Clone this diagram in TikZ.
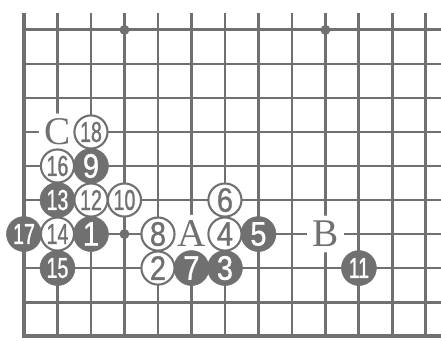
\documentclass[tikz,border=0pt]{standalone}
\usepackage{fontspec}
\newfontfamily\onedigit[FakeStretch=0.85, FakeBold=1]{Liberation Sans}
\newfontfamily\twodigit[FakeStretch=0.68, FakeBold=1]{Liberation Sans}
\newfontfamily\boardserif{Liberation Serif}
\usepackage{xcolor}
\definecolor{gogray}{RGB}{112,112,112}
\usetikzlibrary{positioning}

\tikzset{
  blackstone/.style={circle, fill=gogray, draw=gogray, minimum size=0.94cm, inner sep=0pt,
    text=white, font=\onedigit\fontsize{26}{26}\selectfont},
  whitestone/.style={circle, fill=white, draw=gogray, line width=1.6pt, minimum size=0.89cm,
    inner sep=0pt, text=gogray, font=\onedigit\fontsize{26}{26}\selectfont},
  twonum/.style={font=\twodigit\fontsize{22}{22}\selectfont},
  boardletter/.style={circle, fill=white, minimum size=0.95cm, inner sep=0pt, text=gogray,
    font=\boardserif\fontsize{30}{30}\selectfont},
  gridline/.style={gogray, line width=2.2pt},
}

\begin{document}
\begin{tikzpicture}[x=0.9cm, y=0.914cm]
  \useasboundingbox (-0.716,-0.118) rectangle (12.45,9.88);

  % --- Board lines ---
  \foreach \c in {1,...,12} \draw[gridline] (\c,0) -- (\c,9.5);
  \foreach \r in {1,...,9}  \draw[gridline] (0,\r) -- (12.45,\r);
  % edges of the board
  \draw[gogray, line width=3.2pt] (0,9.5) -- (0,0) -- (12.45,0);
  % star points
  \foreach \x/\y in {3/9, 9/9, 3/3} \fill[gogray] (\x,\y) circle (3.8pt);

  % --- Marked points ---
  \node[boardletter] (ptA) at (5,3) {A};
  \node[boardletter] (ptB) at (9,3) {B};
  \node[boardletter] (ptC) at (1,6) {C};

  % --- Black stones ---
  \node[blackstone]        (m1)  at (2,3)  {1};
  \node[blackstone]        (m3)  at (6,2)  {3};
  \node[blackstone]        (m5)  at (7,3)  {5};
  \node[blackstone]        (m7)  at (5,2)  {7};
  \node[blackstone]        (m9)  at (2,5)  {9};
  \node[blackstone,twonum] (m11) at (10,2) {11};
  \node[blackstone,twonum] (m13) at (1,4)  {13};
  \node[blackstone,twonum] (m15) at (1,2)  {15};
  \node[blackstone,twonum] (m17) at (0,3)  {17};

  % --- White stones ---
  \node[whitestone]        (m2)  at (4,2)  {2};
  \node[whitestone]        (m4)  at (6,3)  {4};
  \node[whitestone]        (m6)  at (6,4)  {6};
  \node[whitestone]        (m8)  at (4,3)  {8};
  \node[whitestone,twonum] (m10) at (3,4)  {10};
  \node[whitestone,twonum] (m12) at (2,4)  {12};
  \node[whitestone,twonum] (m14) at (1,3)  {14};
  \node[whitestone,twonum] (m16) at (1,5)  {16};
  \node[whitestone,twonum] (m18) at (2,6)  {18};
\end{tikzpicture}
\end{document}
